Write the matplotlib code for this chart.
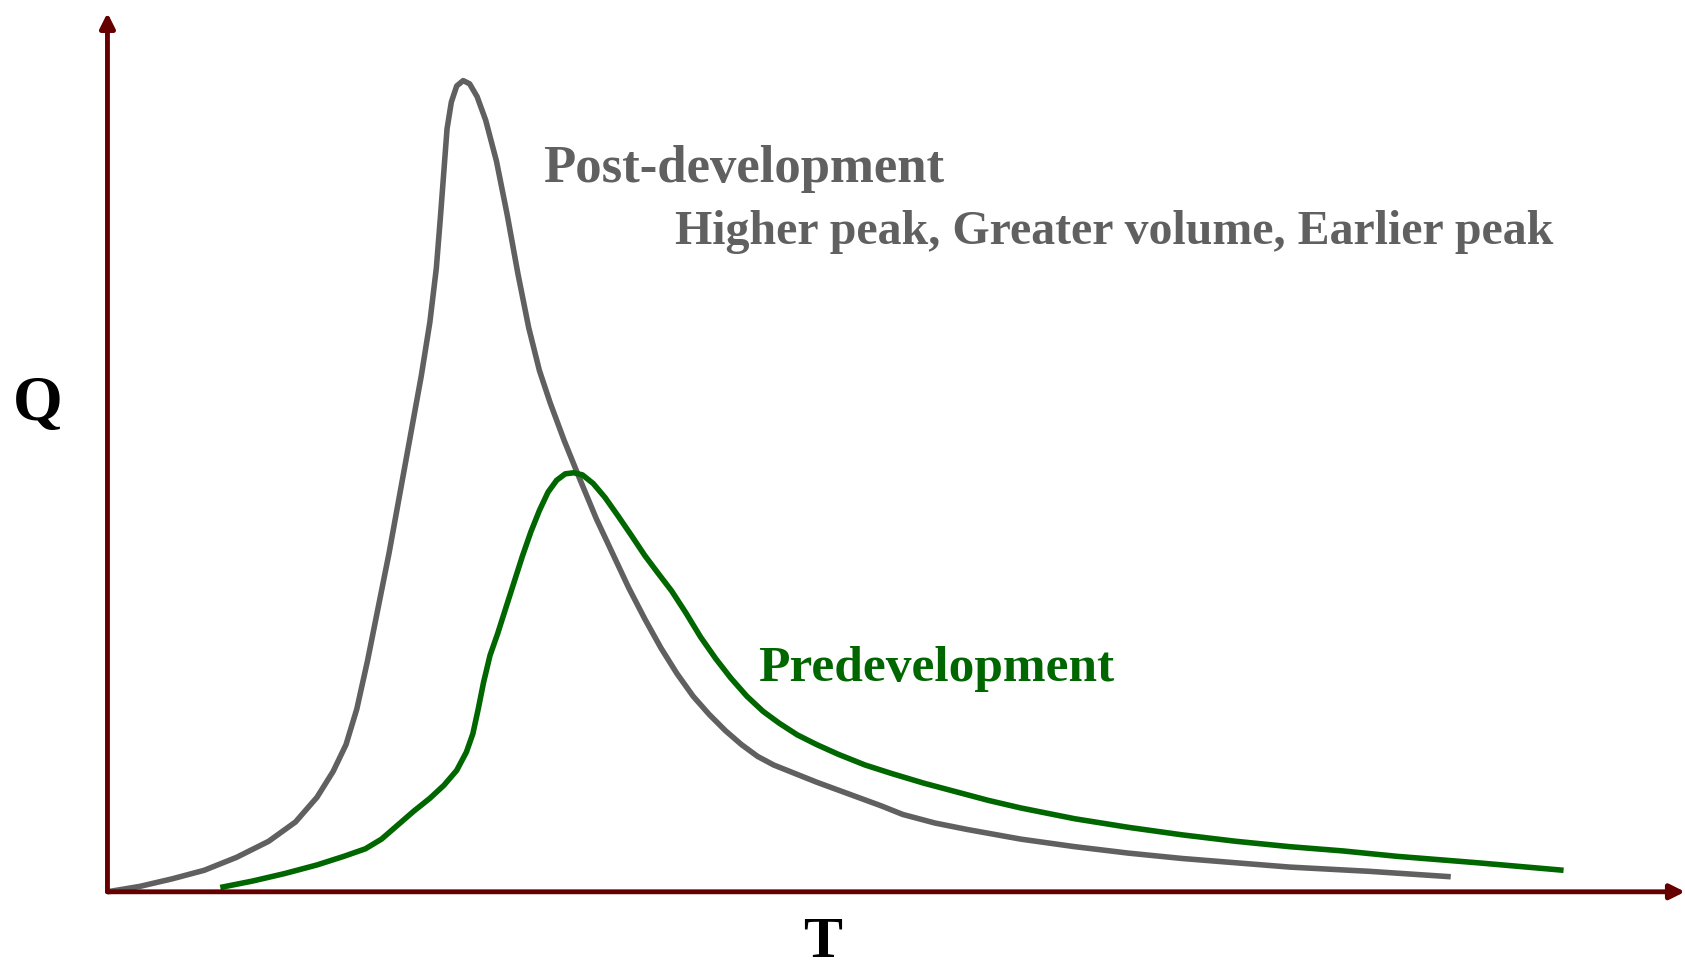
import numpy as np
import matplotlib.pyplot as plt

# hydrograph (T and Q in arbitrary units)
post_t = [0, 30, 60, 90, 120, 150, 175, 195, 210, 222,
          232, 242, 252, 262, 272, 282, 292, 300, 306, 310,
          313, 316, 320, 325, 331, 337, 344, 352, 362, 372,
          382, 392, 402, 412, 425, 440, 455, 470, 485, 500,
          515, 530, 545, 560, 575, 590, 605, 620, 640, 660,
          690, 720, 740, 770, 800, 850, 900, 950, 1000, 1050,
          1100, 1175, 1250]
post_q = [0, 5, 12, 20, 32, 47, 65, 88, 112, 137,
          170, 215, 265, 315, 370, 425, 480, 530, 580, 630,
          670, 710, 735, 750, 755, 752, 740, 718, 680, 630,
          575, 525, 485, 455, 420, 383, 347, 315, 283, 254,
          227, 203, 182, 165, 150, 137, 126, 118, 110, 102,
          91, 80, 72, 64, 58, 49, 42, 36, 31, 27,
          23, 19, 14]

pre_t = [105, 135, 165, 195, 220, 240, 255, 270, 285, 300,
         313, 325, 334, 340, 345, 350, 356, 363, 370, 378,
         386, 394, 402, 410, 418, 426, 434, 442, 452, 463,
         475, 488, 500, 512, 525, 538, 552, 566, 580, 595,
         610, 625, 642, 660, 680, 705, 730, 760, 790, 820,
         850, 900, 950, 1000, 1050, 1100, 1150, 1200, 1275, 1355]
pre_q = [4, 10, 17, 25, 33, 40, 49, 62, 75, 87,
         99, 113, 130, 147, 170, 195, 220, 240, 262, 287,
         312, 335, 355, 372, 383, 389, 390, 388, 380, 367,
         350, 331, 313, 297, 280, 260, 237, 217, 199, 182,
         168, 157, 146, 137, 128, 118, 110, 101, 93, 85,
         78, 68, 60, 53, 47, 42, 38, 33, 27, 20]

axis_color = '#660000'
post_color = '#606060'
pre_color = '#006600'
serif = ['Liberation Serif', 'DejaVu Serif']

fig = plt.figure(figsize=(16.85, 9.67), dpi=100)
ax = fig.add_axes([0, 0, 1, 1])
ax.set_xlim(-100, 1468)
ax.set_ylim(-70, 830)
ax.axis('off')

# axes with arrow heads
arrow = dict(arrowstyle='-|>', color=axis_color, lw=3.5, mutation_scale=22,
             shrinkA=0, shrinkB=0)
ax.annotate('', xy=(1468, 0), xytext=(0, 0), arrowprops=arrow)
ax.annotate('', xy=(0, 818), xytext=(0, 0), arrowprops=arrow)

ax.plot(post_t, post_q, color=post_color, lw=4.0, solid_joinstyle='round',
        solid_capstyle='butt')
ax.plot(pre_t, pre_q, color=pre_color, lw=4.0, solid_joinstyle='round',
        solid_capstyle='butt')

ax.text(405, 673, 'Post-development', color=post_color, fontsize=38,
        fontweight='bold', family=serif, va='center', ha='left')
ax.text(528, 614, 'Higher peak, Greater volume, Earlier peak', color=post_color,
        fontsize=34.5, fontweight='bold', family=serif, va='center', ha='left')
ax.text(605, 207, 'Predevelopment', color=pre_color, fontsize=37,
        fontweight='bold', family=serif, va='center', ha='left')
ax.text(-65, 453, 'Q', color='black', fontsize=46, fontweight='bold',
        family=serif, va='center', ha='center')
ax.text(665, -48, 'T', color='black', fontsize=42, fontweight='bold',
        family=serif, va='center', ha='center')

fig.savefig('out.png', dpi=100)
